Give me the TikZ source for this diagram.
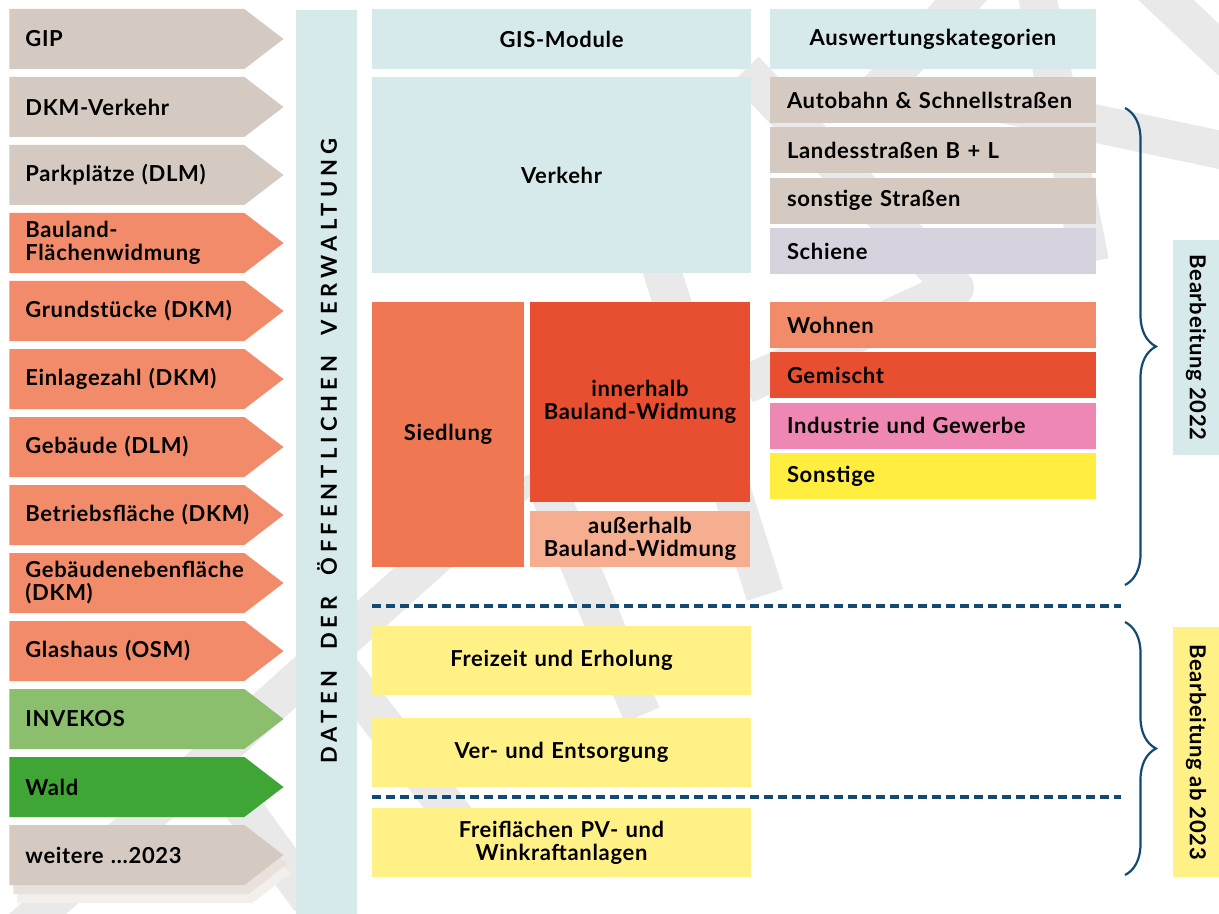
\documentclass[tikz,border=0pt]{standalone}
\usepackage{fontspec}
\setmainfont{Lato}
\usepackage{tikz}
\usetikzlibrary{shapes,positioning,decorations.pathreplacing}
\usepackage{xcolor}
\definecolor{qbeige}{RGB}{213,202,193}
\definecolor{qschatten}{RGB}{233,226,220}
\definecolor{qschattenhell}{RGB}{243,239,236}
\definecolor{qsalmon}{RGB}{241,139,105}
\definecolor{qhellgruen}{RGB}{139,191,110}
\definecolor{qgruen}{RGB}{63,165,53}
\definecolor{qhellblau}{RGB}{214,233,235}
\definecolor{qlila}{RGB}{214,211,222}
\definecolor{qsiedlung}{RGB}{239,120,83}
\definecolor{qrot}{RGB}{232,79,48}
\definecolor{qaprikose}{RGB}{245,174,143}
\definecolor{qrosa}{RGB}{238,135,180}
\definecolor{qgelb}{RGB}{255,237,63}
\definecolor{qhellgelb}{RGB}{255,241,134}
\definecolor{qnavy}{RGB}{18,74,115}
\definecolor{qwasser}{RGB}{233,233,233}
\newcommand{\qschrift}{\fontsize{11}{11.5}\selectfont\bfseries\addfontfeature{LetterSpace=3}}
\newcommand{\qbandschrift}{\fontsize{11}{13}\selectfont\bfseries\addfontfeature{LetterSpace=23}}
\newcommand{\qwort}{\hspace{5pt} }
\tikzstyle{quelle} = [signal, signal to=east, signal pointer angle=75, minimum width=137pt, minimum height=30pt, inner xsep=8pt, inner ysep=0pt, text width=101.5pt, align=left, font=\qschrift, fill=qbeige]
\tikzstyle{modul} = [rectangle, minimum width=189.5pt, text width=180pt, inner sep=0pt, align=center, font=\qschrift, fill=qhellblau]
\tikzstyle{kategorie} = [rectangle, minimum width=163pt, minimum height=23pt, text width=146pt, inner xsep=8.5pt, inner ysep=0pt, align=left, font=\qschrift, fill=qbeige]
\tikzstyle{bearbeitung} = [rectangle, rotate=-90, minimum height=23pt, inner sep=0pt, font=\qschrift]
\tikzstyle{trenner} = [dashed, dash pattern=on 4.5pt off 2.5pt, line width=1.6pt, qnavy]
\tikzstyle{klammer} = [decorate, decoration={brace, amplitude=15.5pt}, line width=1.1pt, qnavy]
\tikzstyle{wasser} = [line width=19pt, qwasser]

\begin{document}
\begin{tikzpicture}[x=0.5pt, y=-0.5pt, node distance=34pt]
\useasboundingbox (0,0) rectangle (1219,914);
% Hintergrund
\draw[wasser] (1150,-15) -- (1235,65);
\draw[wasser] (960,95) -- (1235,153);
\draw[wasser] (1035,-15) -- (1090,262);
\draw[wasser] (975,-15) -- (860,110);
\draw[wasser, line join=round] (745,70) -- (955,288) -- (745,385);
\draw[wasser] (630,170) -- (765,595);
\draw[wasser] (20,930) -- (520,480);
\draw[wasser] (330,655) -- (480,850);
\draw[wasser] (540,470) -- (642,715);
\draw[wasser] (230,790) -- (310,900);

% Datenquellen
\node[quelle, anchor=west] (gip) at (9,39) {GIP};
\node[quelle, below of=gip] (dkmverkehr) {DKM-Verkehr};
\node[quelle, below of=dkmverkehr] (parkplaetze) {\mbox{Parkplätze (DLM)}};
\node[quelle, below of=parkplaetze, fill=qsalmon] (bauland) {Bauland-\\\mbox{Flächenwidmung}};
\node[quelle, below of=bauland, fill=qsalmon] (grundstuecke) {\mbox{Grundstücke (DKM)}};
\node[quelle, below of=grundstuecke, fill=qsalmon] (einlagezahl) {\mbox{Einlagezahl (DKM)}};
\node[quelle, below of=einlagezahl, fill=qsalmon] (gebaeude) {\mbox{Gebäude (DLM)}};
\node[quelle, below of=gebaeude, fill=qsalmon] (betrieb) {\mbox{Betriebsfläche (DKM)}};
\node[quelle, below of=betrieb, fill=qsalmon] (nebenflaeche) {\mbox{Gebäudenebenfläche}\\(DKM)};
\node[quelle, below of=nebenflaeche, fill=qsalmon] (glashaus) {\mbox{Glashaus (OSM)}};
\node[quelle, below of=glashaus, fill=qhellgruen] (invekos) {INVEKOS};
\node[quelle, below of=invekos, fill=qgruen] (wald) {Wald};
\node[quelle, anchor=west, fill=qschattenhell] (weitere2) at (17,873) {};
\node[quelle, anchor=west, fill=qschatten] (weitere1) at (13,864) {};
\node[quelle, below of=wald] (weitere) {\mbox{weitere \dots2023}};

% Verwaltung
\node[rectangle, fill=qhellblau, minimum width=30.5pt, minimum height=452pt, inner sep=0pt] (verwaltung) at (326.5,462) {};
\node[rotate=90, font=\qbandschrift] (verwaltungtext) at (327,451) {DATEN\qwort DER\qwort ÖFFENTLICHEN\qwort VERWALTUNG};

% GIS-Module
\node[modul, minimum height=30pt] (gis) at (561.5,39) {GIS-Module};
\node[modul, minimum height=98pt] (verkehr) at (561.5,175) {Verkehr};
\node[modul, minimum width=76pt, text width=70pt, minimum height=132.5pt, fill=qsiedlung] (siedlung) at (448,434.5) {Siedlung};
\node[modul, minimum width=110pt, text width=106pt, minimum height=100pt, fill=qrot] (innerhalb) at (640,402) {innerhalb\\Bauland-Widmung};
\node[modul, minimum width=110pt, text width=106pt, minimum height=28pt, fill=qaprikose] (ausserhalb) at (640,539) {außerhalb\\Bauland-Widmung};
\node[modul, minimum height=34.5pt, fill=qhellgelb] (freizeit) at (561.5,660.5) {Freizeit und Erholung};
\node[modul, minimum height=34.5pt, fill=qhellgelb] (entsorgung) at (561.5,752.5) {Ver- und Entsorgung};
\node[modul, minimum height=34.5pt, fill=qhellgelb] (freiflaechen) at (561.5,842.5) {Freiflächen PV- und\\Winkraftanlagen};

% Auswertungskategorien
\node[kategorie, minimum height=30pt, align=center, fill=qhellblau] (auswertung) at (933,39) {Auswertungskategorien};
\node[kategorie] (autobahn) at (933,100) {Autobahn \& Schnellstraßen};
\node[kategorie, below of=autobahn, node distance=25.2pt] (landes) {Landesstraßen B + L};
\node[kategorie, below of=landes, node distance=25.2pt] (sonstigestr) {sonstige Straßen};
\node[kategorie, below of=sonstigestr, node distance=25.2pt, fill=qlila] (schiene) {Schiene};
\node[kategorie, fill=qsalmon] (wohnen) at (933,325) {Wohnen};
\node[kategorie, below of=wohnen, node distance=25.2pt, fill=qrot] (gemischt) {Gemischt};
\node[kategorie, below of=gemischt, node distance=25.2pt, fill=qrosa] (industrie) {Industrie und Gewerbe};
\node[kategorie, below of=industrie, node distance=25.2pt, fill=qgelb] (sonstige) {Sonstige};

% Trennlinien
\coordinate (trenn1links) at (372,606);
\coordinate (trenn1rechts) at (1121,606);
\coordinate (trenn2links) at (372,797);
\coordinate (trenn2rechts) at (1121,797);
\draw[trenner] (trenn1links) -- (trenn1rechts);
\draw[trenner] (trenn2links) -- (trenn2rechts);

% Bearbeitung
\coordinate (klammer1oben) at (1125,108);
\coordinate (klammer1unten) at (1125,585);
\coordinate (klammer2oben) at (1125,622);
\coordinate (klammer2unten) at (1125,875);
\draw[klammer] (klammer1oben) -- (klammer1unten);
\draw[klammer] (klammer2oben) -- (klammer2unten);
\node[bearbeitung, fill=qhellblau, minimum width=107.5pt] (bearb2022) at (1196,347.5) {Bearbeitung 2022};
\node[bearbeitung, fill=qhellgelb, minimum width=125pt] (bearb2023) at (1196,752) {Bearbeitung ab 2023};
\end{tikzpicture}
\end{document}
